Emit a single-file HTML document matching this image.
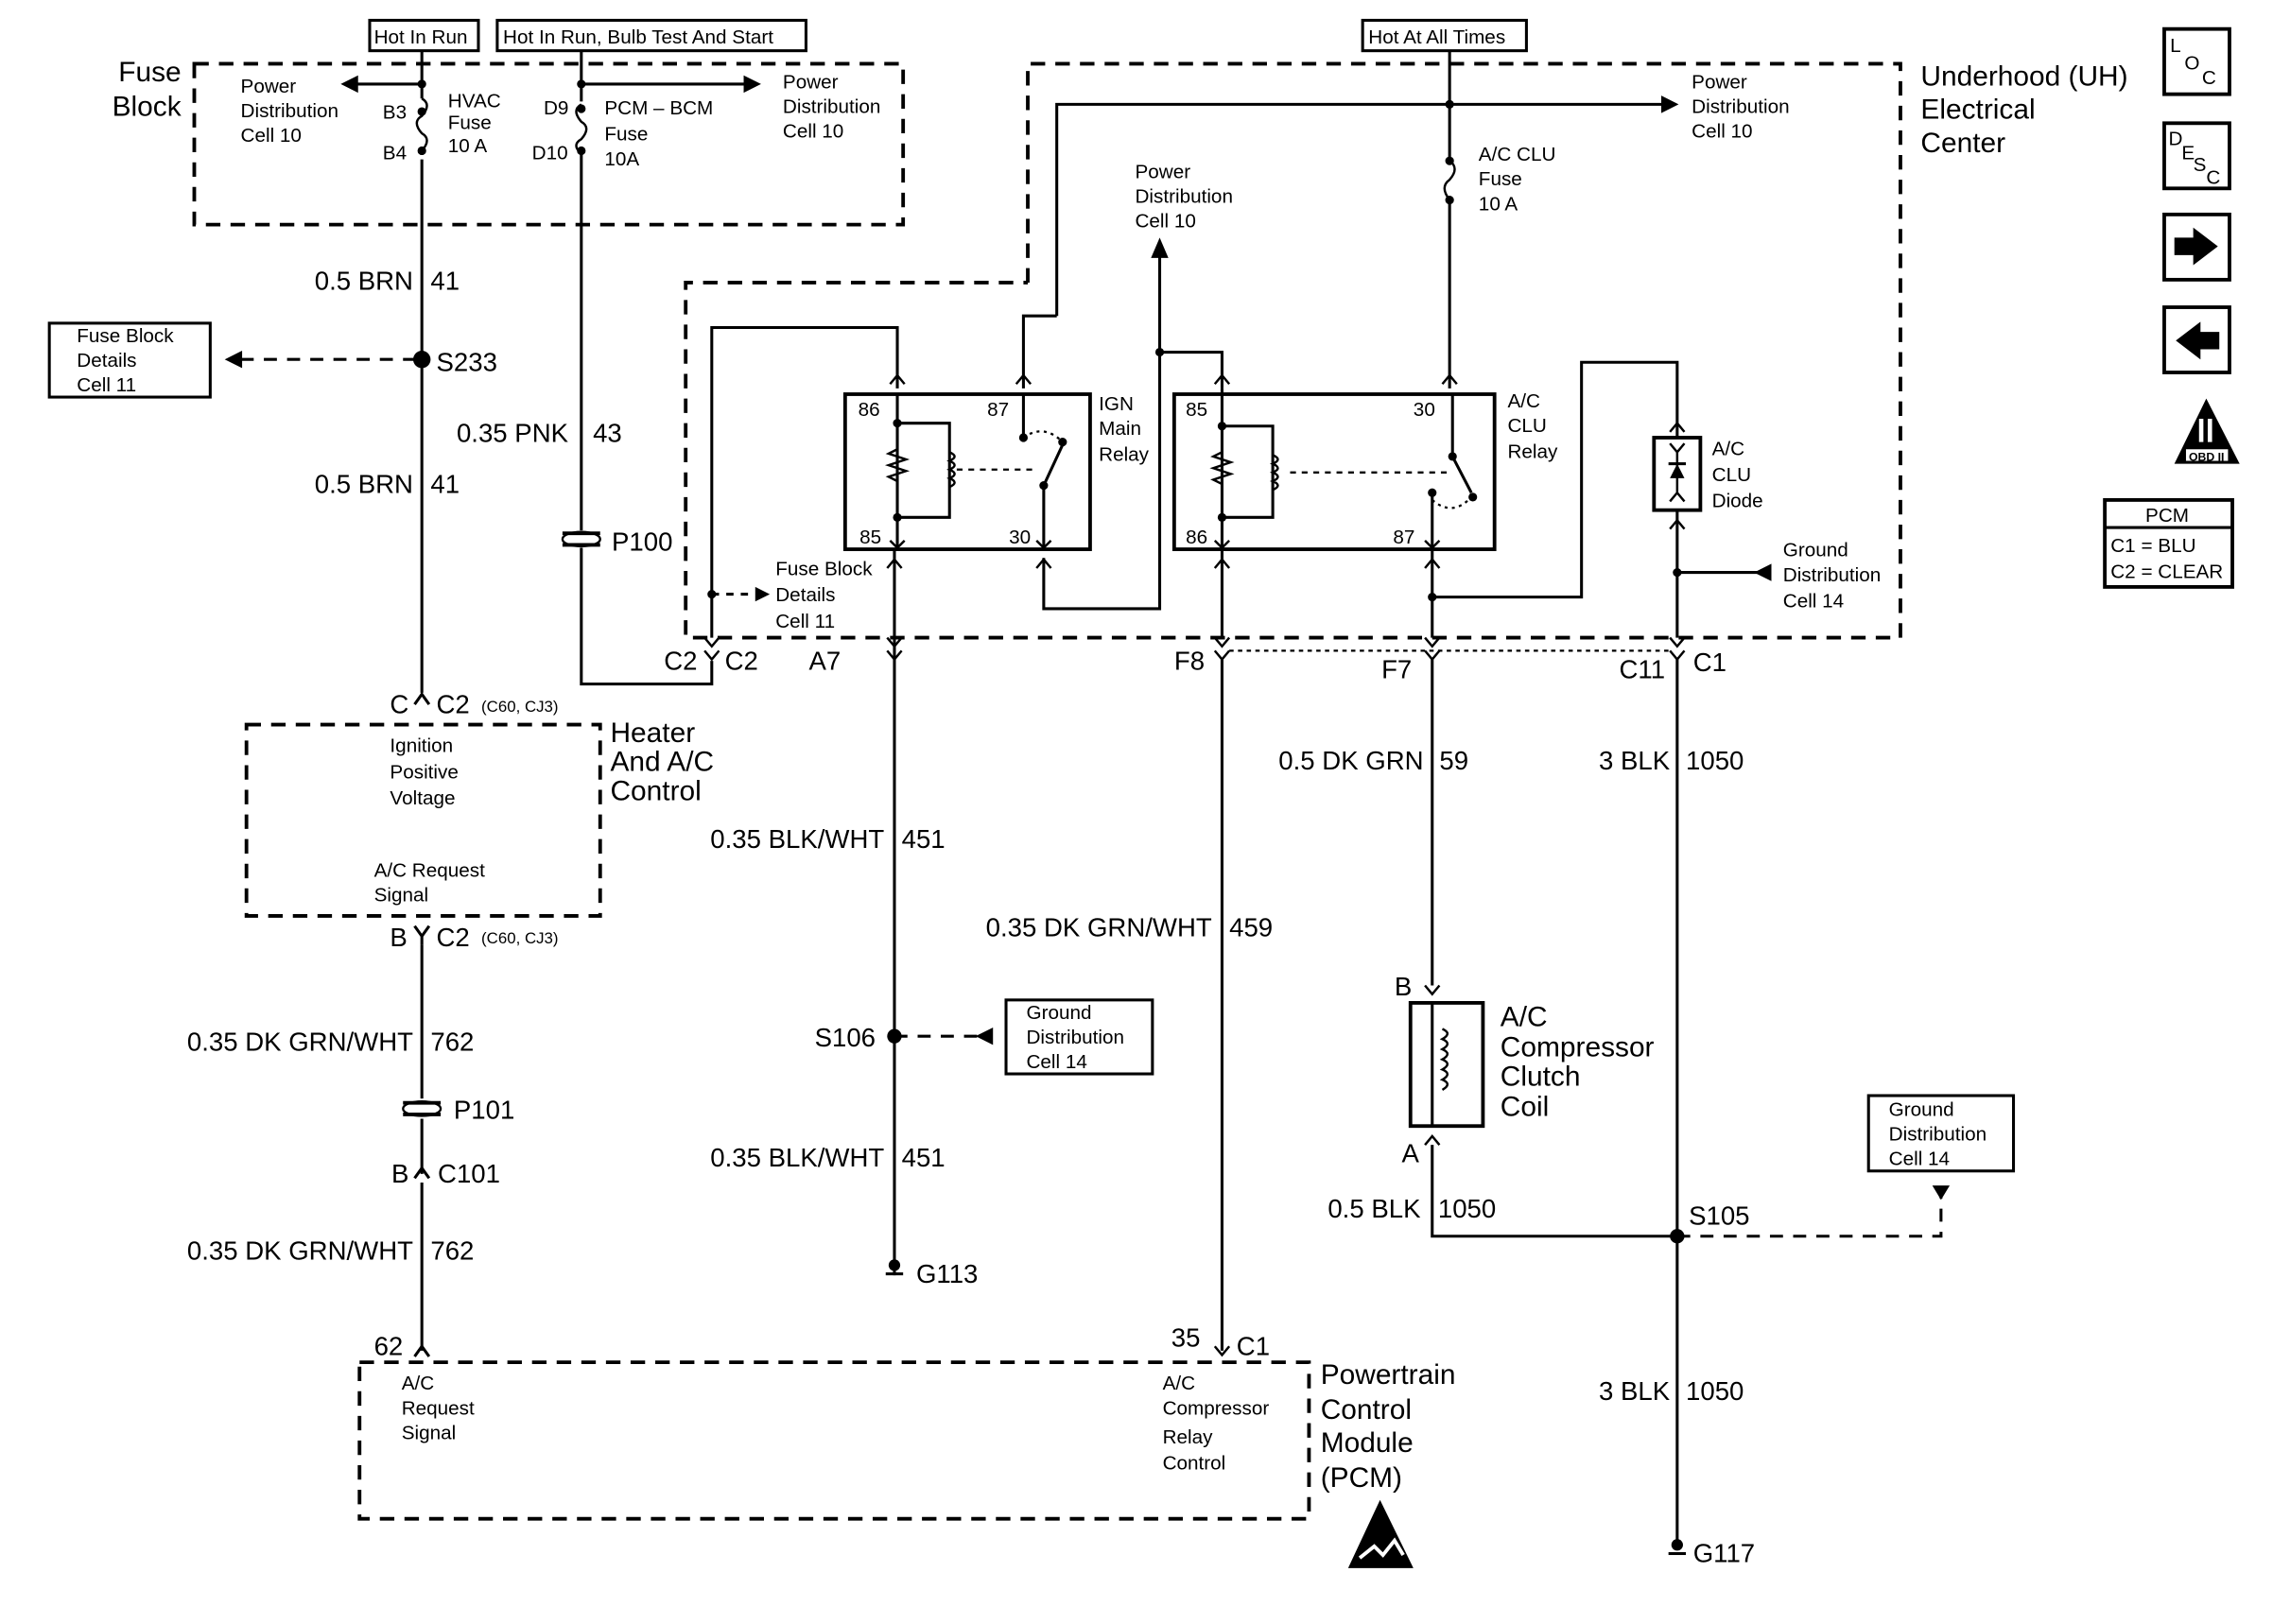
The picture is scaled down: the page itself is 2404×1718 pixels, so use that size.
<!DOCTYPE html>
<html><head><meta charset="utf-8"><style>
html,body{margin:0;padding:0;background:#fff}
svg{display:block}
text{font-family:"Liberation Sans",Arial,sans-serif;fill:#000}
.s{font-size:13.5px}.m{font-size:18px}.l{font-size:19.5px}.x{font-size:11px}
</style></head><body>
<svg width="2404" height="1718" viewBox="0 0 1568 1120.6" xmlns="http://www.w3.org/2000/svg">
<g fill="none" stroke="#000" stroke-width="2">
<rect x="255" y="14" width="75" height="21"/>
<rect x="343" y="14" width="213" height="21"/>
<rect x="940" y="14" width="113" height="21"/>
<g stroke-dasharray="10,7" stroke-width="2.5">
<rect x="134" y="44" width="489" height="111"/>
<path d="M709,195 V44 H1311 V440 H473 V195 H709"/>
<rect x="170" y="500" width="244" height="132"/>
<rect x="248" y="940" width="655" height="108"/>
</g>
<path d="M291,35 V68 M291,110 V478"/>
<path d="M291,68 q7,4 0,12 q-7,4 0,12 q7,4 0,12" stroke-width="1.6"/>
<path d="M291,58 H240"/>
<path d="M401,35 V70 M401,102 V366 M401,378 V472 H491 V456"/>
<path d="M401,72 q-7,4 0,12 q7,4 0,12 q-7,4 0,10" stroke-width="1.6"/>
<path d="M401,58 H515"/>
<path d="M388,368 H414 M388,376 H414" stroke-width="2.5"/>
<ellipse cx="401" cy="372" rx="13" ry="5" stroke-width="1.5"/>
<path d="M287,248 H165" stroke-dasharray="9,7"/>
<rect x="34" y="223" width="111" height="51"/>
<path d="M291,652 V758 M291,772 V810 M291,816 V932"/>
<path d="M278,761 H304 M278,769 H304" stroke-width="2.5"/>
<ellipse cx="291" cy="765" rx="13" ry="5" stroke-width="1.5"/>
<path d="M286,813 L291,806 L296,813"/>
<path d="M286,936 L291,929 L296,936"/>
<path d="M286,486 L291,479 L296,486"/>
<path d="M286,639 L291,646 L296,639 M291,646 V652"/>
<path d="M1000,35 V111 M1000,138 V268"/>
<path d="M1000,111 q7,5 0,13 q-7,5 0,14" stroke-width="1.6"/>
<path d="M729,218 V72 H1150"/>
<path d="M729,218 H706 V268"/>
<path d="M800,172 V420 H720 V385"/>
<path d="M800,243 H843 V268"/>
<rect x="583" y="272" width="169" height="107" stroke-width="2.5"/>
<path d="M619,268 V226 H491 V440"/>
<path d="M491,410 H520" stroke-dasharray="5,5"/>
<path d="M619,272 V378 M617,379 V880"/>
<path d="M619,292 H655 V357 H619"/>
<path d="M619,310 l-6,3 12,4 -12,4 12,4 -12,4 6,3" stroke-width="1.6"/>
<path d="M655,312 q7,3 0,6 q7,3 0,6 q7,3 0,6 q7,3 0,6" stroke-width="1.6"/>
<path d="M660,324 H715" stroke-dasharray="4,4" stroke-width="1.5"/>
<path d="M706,272 V302 M720,379 V335 L733,307"/>
<path d="M706,302 q14,-10 27,3" stroke-dasharray="2,3" stroke-width="1.5"/>
<rect x="810" y="272" width="221" height="107" stroke-width="2.5"/>
<path d="M843,268 V440 M843,455 V932"/>
<path d="M843,294 H878 V357 H843"/>
<path d="M843,312 l-6,3 12,4 -12,4 12,4 -12,4 6,3" stroke-width="1.6"/>
<path d="M878,314 q7,3 0,6 q7,3 0,6 q7,3 0,6 q7,3 0,6" stroke-width="1.6"/>
<path d="M890,326 H998" stroke-dasharray="4,4" stroke-width="1.5"/>
<path d="M1002,272 V315 L1015,340 M988,340 V440 M988,455 V680"/>
<path d="M988,345 q14,12 27,-2" stroke-dasharray="2,3" stroke-width="1.5"/>
<path d="M988,412 H1091 V250 H1157 V302 M1157,352 V440 M1157,455 V1068"/>
<path d="M1157,395 H1215"/>
<rect x="1141" y="302" width="32" height="50" stroke-width="2.5"/>
<path d="M848,449 H1152" stroke-dasharray="3,3" stroke-width="1.5"/>
<rect x="973" y="692" width="50" height="85" stroke-width="2.5"/>
<path d="M988,692 V777"/>
<path d="M995,710 q7,3 0,7 q7,3 0,7 q7,3 0,7 q7,3 0,7 q7,3 0,7 q7,3 0,7" stroke-width="1.6"/>
<path d="M988,790 V853 H1157"/>
<path d="M1157,853 H1339 V825" stroke-dasharray="9,7"/>
<rect x="1289" y="756" width="100" height="52"/>
<path d="M617,715 H678" stroke-dasharray="9,7"/>
<rect x="694" y="690" width="101" height="51"/>
<g stroke-width="1.6">
<path d="M614,265 L619,259 L624,265 M701,265 L706,259 L711,265 M838,265 L843,259 L848,265 M995,265 L1000,259 L1005,265 M1152,298 L1157,292 L1162,298"/>
<path d="M614,373 L619,378 L624,373 M715,373 L720,378 L725,373 M838,373 L843,378 L848,373 M983,373 L988,378 L993,373"/>
<path d="M612,440 L617,446 L622,440 M838,440 L843,446 L848,440 M983,440 L988,446 L993,440 M1152,440 L1157,446 L1162,440 M486,440 L491,446 L496,440"/>
<path d="M612,449 L617,455 L622,449 M838,449 L843,455 L848,449 M983,449 L988,455 L993,449 M1152,449 L1157,455 L1162,449 M486,449 L491,455 L496,449"/>
<path d="M612,392 L617,386 L622,392 M715,392 L720,386 L725,392 M838,392 L843,386 L848,392 M983,392 L988,386 L993,392 M1152,365 L1157,359 L1162,365"/>
<path d="M983,680 L988,686 L993,680 M983,790 L988,784 L993,790 M838,929 L843,935 L848,929"/>
<path d="M1152,306 L1157,312 L1162,306 M1152,346 L1157,340 L1162,346 M1157,312 V340"/>
</g>
<rect x="1493" y="20" width="45" height="45" stroke-width="2.5"/>
<rect x="1493" y="85" width="45" height="45" stroke-width="2.5"/>
<rect x="1493" y="148" width="45" height="45" stroke-width="2.5"/>
<rect x="1493" y="212" width="45" height="45" stroke-width="2.5"/>
<rect x="1452" y="345" width="88" height="60" stroke-width="2.5"/>
<path d="M1452,364 H1540" stroke-width="2"/>
</g>
<g fill="#000" stroke="none">
<circle cx="291" cy="58" r="3"/><circle cx="291" cy="77" r="3"/><circle cx="291" cy="104" r="3"/>
<circle cx="401" cy="58" r="3"/><circle cx="401" cy="75" r="3"/><circle cx="401" cy="104" r="3"/>
<polygon points="235,58 247,52 247,64"/><polygon points="525,58 513,52 513,64"/>
<circle cx="291" cy="248" r="6"/><polygon points="155,248 167,242 167,254"/>
<circle cx="1000" cy="72" r="3"/><circle cx="1000" cy="111" r="3"/><circle cx="1000" cy="138" r="3"/>
<polygon points="1158,72 1146,66 1146,78"/><polygon points="800,164 794,178 806,178"/>
<circle cx="800" cy="243" r="3"/><circle cx="491" cy="410" r="3"/><polygon points="531,410 521,405 521,415"/>
<circle cx="619" cy="292" r="3"/><circle cx="619" cy="357" r="3"/><circle cx="706" cy="302" r="3"/><circle cx="733" cy="305" r="3"/><circle cx="720" cy="335" r="3"/>
<circle cx="843" cy="294" r="3"/><circle cx="843" cy="357" r="3"/><circle cx="1002" cy="315" r="3"/><circle cx="988" cy="340" r="3"/><circle cx="1016" cy="343" r="3"/>
<circle cx="988" cy="412" r="3"/><circle cx="1157" cy="395" r="3"/><polygon points="1210,395 1222,389 1222,401"/>
<polygon points="1157,320 1152,330 1162,330"/><rect x="1151" y="319" width="12" height="2"/>
<circle cx="617" cy="715" r="5"/><polygon points="673,715 685,709 685,721"/>
<circle cx="1157" cy="853" r="5"/><polygon points="1333,818 1345,818 1339,828"/>
<rect x="611" y="878" width="12" height="2"/><circle cx="617" cy="873" r="4"/>
<rect x="1151" y="1071" width="12" height="2"/><circle cx="1157" cy="1066" r="4"/>
<polygon points="1500,164 1513,164 1513,157 1530,170 1513,183 1513,176 1500,176"/>
<polygon points="1531,229 1518,229 1518,222 1501,235 1518,248 1518,241 1531,241"/>
<polygon points="1522,275 1545,320 1500,320"/>
<polygon points="952,1035 975,1082 930,1082"/>
</g>
<rect x="1508" y="310" width="29" height="8" fill="#fff"/>
<rect x="1517" y="289" width="3" height="16" fill="#fff"/><rect x="1523" y="289" width="3" height="16" fill="#fff"/>
<path d="M938,1075 l10,-8 6,6 8,-10 6,10" stroke="#fff" stroke-width="2.5" fill="none"/>
<text class="s" x="258" y="30">Hot In Run</text>
<text class="s" x="347" y="30">Hot In Run, Bulb Test And Start</text>
<text class="s" x="944" y="30">Hot At All Times</text>
<text class="l" x="125" y="56" text-anchor="end">Fuse</text>
<text class="l" x="125" y="80" text-anchor="end">Block</text>
<text class="s" x="166" y="64">Power</text><text class="s" x="166" y="81">Distribution</text><text class="s" x="166" y="98">Cell 10</text>
<text class="s" x="264" y="82">B3</text><text class="s" x="264" y="110">B4</text>
<text class="s" x="309" y="74">HVAC</text><text class="s" x="309" y="89">Fuse</text><text class="s" x="309" y="105">10 A</text>
<text class="s" x="375" y="79">D9</text><text class="s" x="367" y="110">D10</text>
<text class="s" x="417" y="79">PCM – BCM</text><text class="s" x="417" y="97">Fuse</text><text class="s" x="417" y="114">10A</text>
<text class="s" x="540" y="61">Power</text><text class="s" x="540" y="78">Distribution</text><text class="s" x="540" y="95">Cell 10</text>
<text class="m" x="285" y="200" text-anchor="end">0.5 BRN</text><text class="m" x="297" y="200">41</text>
<text class="m" x="301" y="256">S233</text>
<text class="s" x="53" y="236">Fuse Block</text><text class="s" x="53" y="253">Details</text><text class="s" x="53" y="270">Cell 11</text>
<text class="m" x="392" y="305" text-anchor="end">0.35 PNK</text><text class="m" x="409" y="305">43</text>
<text class="m" x="285" y="340" text-anchor="end">0.5 BRN</text><text class="m" x="297" y="340">41</text>
<text class="m" x="422" y="380">P100</text>
<text class="m" x="458" y="462">C2</text><text class="m" x="500" y="462">C2</text>
<text class="m" x="558" y="462">A7</text><text class="m" x="810" y="462">F8</text><text class="m" x="953" y="468">F7</text>
<text class="m" x="1117" y="468">C11</text><text class="m" x="1168" y="463">C1</text>
<text class="m" x="269" y="492">C</text><text class="m" x="301" y="492">C2</text><text class="x" x="332" y="491">(C60, CJ3)</text>
<text class="s" x="269" y="519">Ignition</text><text class="s" x="269" y="537">Positive</text><text class="s" x="269" y="555">Voltage</text>
<text class="s" x="258" y="605">A/C Request</text><text class="s" x="258" y="622">Signal</text>
<text class="l" x="421" y="512">Heater</text><text class="l" x="421" y="532">And A/C</text><text class="l" x="421" y="552">Control</text>
<text class="m" x="269" y="653">B</text><text class="m" x="301" y="653">C2</text><text class="x" x="332" y="651">(C60, CJ3)</text>
<text class="m" x="285" y="725" text-anchor="end">0.35 DK GRN/WHT</text><text class="m" x="297" y="725">762</text>
<text class="m" x="313" y="772">P101</text>
<text class="m" x="270" y="816">B</text><text class="m" x="302" y="816">C101</text>
<text class="m" x="285" y="869" text-anchor="end">0.35 DK GRN/WHT</text><text class="m" x="297" y="869">762</text>
<text class="m" x="258" y="935">62</text><text class="m" x="808" y="929">35</text><text class="m" x="853" y="935">C1</text>
<text class="s" x="277" y="959">A/C</text><text class="s" x="277" y="976">Request</text><text class="s" x="277" y="993">Signal</text>
<text class="s" x="802" y="959">A/C</text><text class="s" x="802" y="976">Compressor</text><text class="s" x="802" y="996">Relay</text><text class="s" x="802" y="1014">Control</text>
<text class="l" x="911" y="955">Powertrain</text><text class="l" x="911" y="979">Control</text><text class="l" x="911" y="1002">Module</text><text class="l" x="911" y="1026">(PCM)</text>
<text class="l" x="1325" y="59">Underhood (UH)</text><text class="l" x="1325" y="82">Electrical</text><text class="l" x="1325" y="105">Center</text>
<text class="s" x="1167" y="61">Power</text><text class="s" x="1167" y="78">Distribution</text><text class="s" x="1167" y="95">Cell 10</text>
<text class="s" x="1020" y="111">A/C CLU</text><text class="s" x="1020" y="128">Fuse</text><text class="s" x="1020" y="145">10 A</text>
<text class="s" x="783" y="123">Power</text><text class="s" x="783" y="140">Distribution</text><text class="s" x="783" y="157">Cell 10</text>
<text class="s" x="758" y="283">IGN</text><text class="s" x="758" y="300">Main</text><text class="s" x="758" y="318">Relay</text>
<text class="s" x="592" y="287">86</text><text class="s" x="681" y="287">87</text><text class="s" x="593" y="375">85</text><text class="s" x="696" y="375">30</text>
<text class="s" x="1040" y="281">A/C</text><text class="s" x="1040" y="298">CLU</text><text class="s" x="1040" y="316">Relay</text>
<text class="s" x="818" y="287">85</text><text class="s" x="975" y="287">30</text><text class="s" x="818" y="375">86</text><text class="s" x="961" y="375">87</text>
<text class="s" x="1181" y="314">A/C</text><text class="s" x="1181" y="332">CLU</text><text class="s" x="1181" y="350">Diode</text>
<text class="s" x="1230" y="384">Ground</text><text class="s" x="1230" y="401">Distribution</text><text class="s" x="1230" y="419">Cell 14</text>
<text class="s" x="535" y="397">Fuse Block</text><text class="s" x="535" y="415">Details</text><text class="s" x="535" y="433">Cell 11</text>
<text class="m" x="610" y="585" text-anchor="end">0.35 BLK/WHT</text><text class="m" x="622" y="585">451</text>
<text class="m" x="836" y="646" text-anchor="end">0.35 DK GRN/WHT</text><text class="m" x="848" y="646">459</text>
<text class="m" x="604" y="722" text-anchor="end">S106</text>
<text class="s" x="708" y="703">Ground</text><text class="s" x="708" y="720">Distribution</text><text class="s" x="708" y="737">Cell 14</text>
<text class="m" x="610" y="805" text-anchor="end">0.35 BLK/WHT</text><text class="m" x="622" y="805">451</text>
<text class="m" x="632" y="885">G113</text>
<text class="m" x="982" y="531" text-anchor="end">0.5 DK GRN</text><text class="m" x="993" y="531">59</text>
<text class="m" x="1152" y="531" text-anchor="end">3 BLK</text><text class="m" x="1163" y="531">1050</text>
<text class="m" x="962" y="687">B</text><text class="m" x="967" y="802">A</text>
<text class="l" x="1035" y="708">A/C</text><text class="l" x="1035" y="729">Compressor</text><text class="l" x="1035" y="749">Clutch</text><text class="l" x="1035" y="770">Coil</text>
<text class="m" x="980" y="840" text-anchor="end">0.5 BLK</text><text class="m" x="992" y="840">1050</text>
<text class="m" x="1165" y="845">S105</text>
<text class="s" x="1303" y="770">Ground</text><text class="s" x="1303" y="787">Distribution</text><text class="s" x="1303" y="804">Cell 14</text>
<text class="m" x="1152" y="966" text-anchor="end">3 BLK</text><text class="m" x="1163" y="966">1050</text>
<text class="m" x="1168" y="1078">G117</text>
<text class="s" x="1497" y="36">L</text><text class="s" x="1507" y="48">O</text><text class="s" x="1519" y="58">C</text>
<text class="s" x="1496" y="100">D</text><text class="s" x="1505" y="110">E</text><text class="s" x="1513" y="118">S</text><text class="s" x="1522" y="127">C</text>
<text class="x" x="1510" y="318" style="font-size:8px;font-weight:bold">OBD II</text>
<text class="s" x="1480" y="360">PCM</text>
<text class="s" x="1456" y="381">C1 = BLU</text><text class="s" x="1456" y="399">C2 = CLEAR</text>
</svg>
</body></html>
